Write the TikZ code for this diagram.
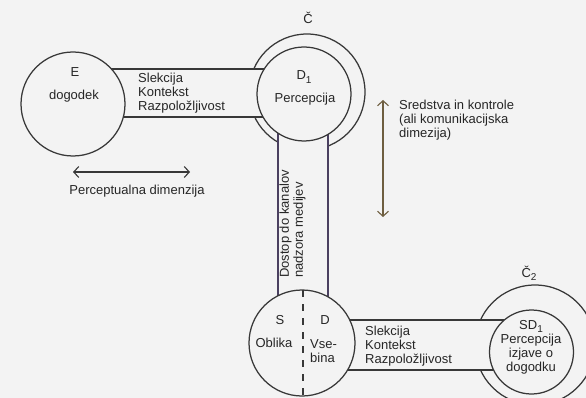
\documentclass[tikz,border=0pt]{standalone}
\usepackage{fontspec}
\setmainfont{Liberation Sans}
\usetikzlibrary{arrows.meta,calc}
\definecolor{bg}{HTML}{F3F3F3}
\definecolor{ink}{HTML}{383838}
\definecolor{txt}{HTML}{262626}
\definecolor{vband}{HTML}{4A4060}
\definecolor{varrow}{HTML}{6E5E40}
\newcommand\mysub[1]{\raisebox{-0.45ex}{\fontsize{10}{10}\selectfont #1}}
\begin{document}
\begin{tikzpicture}[x=1pt,y=-1pt,
  ring/.style={circle, draw=ink, line width=1.25pt, fill=bg, inner sep=0pt, minimum size=#1},
  bandline/.style={draw=ink, line width=1.15pt},
  lbl/.style={font=\fontsize{13}{14}\selectfont, text=txt, inner sep=0pt, align=center},
  lbll/.style={lbl, align=left},
  tipb/.tip={Straight Barb[length=5pt,width=11pt,line width=1.1pt]},
  dbl/.style={line width=1.1pt, tipb-tipb}
]
\fill[bg] (0,0) rectangle (586,398);
\useasboundingbox (0,0) rectangle (586,398);

% centres
\coordinate (cE) at (73,104);
\coordinate (cC) at (304,94);
\coordinate (cS) at (302,343);
\coordinate (cC2) at (531.5,352);

% outer rings
\node[ring=116pt] (Cout) at (307,92) {};
\node[ring=120pt] (C2out) at (535,345) {};

% band E -- C
\fill[bg] (cE |- 0,69) rectangle (cC |- 0,117);
\draw[bandline] (cE |- 0,69) -- (cC |- 0,69);
\draw[bandline] (cE |- 0,117) -- (cC |- 0,117);

% vertical band C -- S/D
\fill[bg] (278,0 |- cC) rectangle (328,0 |- cS);
\draw[bandline, draw=vband] (278,0 |- cC) -- (278,0 |- cS);
\draw[bandline, draw=vband] (328,0 |- cC) -- (328,0 |- cS);

% band S/D -- C2
\fill[bg] (cS |- 0,320) rectangle (cC2 |- 0,370);
\draw[bandline] (cS |- 0,320) -- (cC2 |- 0,320);
\draw[bandline] (cS |- 0,370) -- (cC2 |- 0,370);

% circles
\node[ring=104pt] (E) at (cE) {};
\node[ring=94pt] (Cin) at (cC) {};
\node[ring=106pt] (SD) at (cS) {};
\node[ring=84pt] (C2in) at (cC2) {};

% dashed divider
\coordinate (dt) at (303,290);
\coordinate (db) at (303,400);
\draw[ink, line width=1.1pt, dash pattern=on 7pt off 7pt] (dt) -- (db);

% arrows
\coordinate (pa) at (73,172);
\coordinate (pb) at (190,172);
\draw[dbl, draw=ink] (pa) -- (pb);
\coordinate (va) at (383,100);
\coordinate (vb) at (383,217);
\draw[dbl, draw=varrow] (va) -- (vb);

% labels
\node[lbl] (tE) at (75,72) {E};
\node[lbl] (tdog) at (74,96) {dogodek};
\node[lbll, anchor=west] (t1) at (138,93) {Slekcija\\Kontekst\\Razpoložljivost};
\node[lbl] (tC) at (308,18) {Č};
\node[lbl] (tD1) at (304,77) {D\mysub{1}};
\node[lbl] (tP) at (305,99) {Percepcija};
\node[lbll, anchor=west] (tsr) at (399,120) {Sredstva in kontrole\\(ali komunikacijska\\dimezija)};
\node[lbl] (tpd) at (137,191) {Perceptualna dimenzija};
\node[lbll, rotate=90, anchor=west] (tdo) at (292.5,278) {Dostop do kanalov\\nadzora medijev};
\node[lbl] (tS) at (280,320) {S};
\node[lbl] (tD) at (325,320) {D};
\node[lbl] (tO) at (274,343) {Oblika};
\node[lbll, anchor=west] (tV) at (310,351) {Vse-\\bina};
\node[lbll, anchor=west] (t2) at (365,346) {Slekcija\\Kontekst\\Razpoložljivost};
\node[lbl] (tC2) at (529,273) {Č\mysub{2}};
\node[lbl] (tSD) at (531,347) {SD\mysub{1}\\Percepcija\\izjave o\\dogodku};
\end{tikzpicture}
\end{document}
